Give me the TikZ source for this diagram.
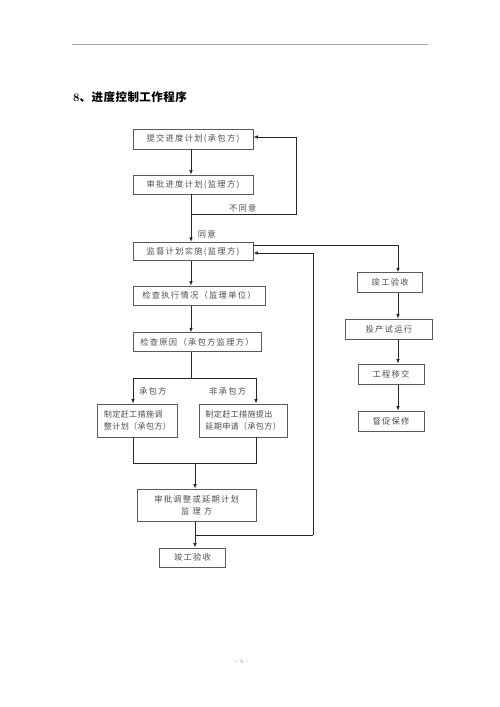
\documentclass[tikz,border=0pt]{standalone}
\usepackage{fontspec}
\usetikzlibrary{arrows.meta,calc}
\newfontfamily\cjk[LetterSpace=15]{Noto Sans CJK SC}
\newfontfamily\cjkn[LetterSpace=4]{Noto Sans CJK SC}
\newfontfamily\cjkt[LetterSpace=4]{Noto Sans CJK SC}
\definecolor{boxline}{gray}{0.35}
\definecolor{txt}{gray}{0.3}
\begin{document}
\begin{tikzpicture}[x=1pt,y=-1pt,
  box/.style={draw=boxline, line width=0.8pt, inner sep=0pt, anchor=center,
    font=\cjk\fontsize{8.3}{11.7}\selectfont, text=txt},
  nbox/.style={box, align=left, font=\cjkn\fontsize{8.1}{11.7}\selectfont},
  lbl/.style={inner sep=0pt, font=\cjk\fontsize{8.3}{10}\selectfont, text=txt},
  conn/.style={line width=0.8pt, draw=black!85},
  arr/.style={conn, -{Latex[length=4.5pt,width=3.6pt]}}]
\useasboundingbox (0,0) rectangle (500,707);
\draw[line width=1.2pt, gray!70] (72,44.5) coordinate (tl) -- (428,44.5) coordinate (tr);
\node[anchor=west, inner sep=0pt, text=black] (title) at (73,97)
  {\fontsize{11.5}{12}\selectfont\bfseries 8\cjkt 、进度控制工作程序};
% main column boxes
\node[box, minimum width=120, minimum height=20] (b1) at (193,139) {提交进度计划(承包方)};
\node[box, minimum width=120, minimum height=19] (b2) at (193,184.5) {审批进度计划(监理方)};
\node[box, minimum width=120, minimum height=18.5] (b3) at (193,251.5) {监督计划实施(监理方)};
\node[box, minimum width=132, minimum height=19.5] (b4) at (199,295.8) {检查执行情况（监理单位）};
\node[box, minimum width=128, minimum height=19] (b5) at (197,342.2) {检查原因（承包方监理方）};
\node[nbox, minimum width=80.4, minimum height=33] (b6) at (137.5,420.5) {制定赶工措施调\\整计划（承包方）};
\node[nbox, minimum width=88.3, minimum height=33] (b7) at (243.2,420.5) {制定赶工措施提出\\延期申请（承包方）};
\node[box, minimum width=118.7, minimum height=32.7, align=center, font=\cjk\fontsize{8.3}{12.7}\selectfont] (b8) at (196.7,505.3) {审批调整或延期计划\\监\ 理\ 方};
\node[box, minimum width=66.4, minimum height=19.7] (b9) at (192.5,557.8) {竣工验收};
% right column
\node[box, minimum width=65, minimum height=20] (r1) at (390.2,282.7) {竣工验收};
\node[box, minimum width=87.7, minimum height=20] (r2) at (388.9,329) {投产试运行};
\node[box, minimum width=66, minimum height=20] (r3) at (391,374) {工程移交};
\node[box, minimum width=66, minimum height=20] (r4) at (391,421) {督促保修};
% guide coordinates
\coordinate (m) at (191,0);
\coordinate (n) at (195,0);
\coordinate (rc) at (398,0);
\coordinate (fb) at (296,214);
\coordinate (lp) at (313,535);
\coordinate (sp) at (191,378);
\coordinate (brL) at (133,378);
\coordinate (brR) at (256,378);
\coordinate (jL) at (133,463);
\coordinate (jR) at (256,463);
\coordinate (jn) at (195,463);
% labels
\node[lbl] (lno) at (242.7,208) {不同意};
\node[lbl] (lyes) at (206.7,234) {同意};
\node[lbl] (lcb) at (152.7,391.7) {承包方};
\node[lbl] (lfcb) at (227.7,391.7) {非承包方};
% connectors main column
\draw[arr] (b1.south-|m) -- (b2.north-|m);
\draw[arr] (b2.south-|m) -- (b3.north-|m);
\draw[arr] (fb-|m) -- (fb) -- (fb|-0,137) -- (b1.east|-0,137);
\draw[arr] (b3.south-|m) -- (b4.north-|m);
\draw[arr] (b4.south-|m) -- (b5.north-|m);
\draw[conn] (b5.south-|m) -- (sp);
\draw[conn] (brL) -- (brR);
\draw[arr] (brL) -- (b6.north-|brL);
\draw[arr] (brR) -- (b7.north-|brR);
\draw[conn] (b6.south-|jL) -- (jL) -- (jR) -- (b7.south-|jR);
\draw[arr] (jn) -- (b8.north-|n);
\draw[arr] (b8.south-|n) -- (b9.north-|n);
\draw[conn] (lp-|n) -- (lp);
\draw[arr] (lp) -- (lp|-0,253) -- (b3.east|-0,253);
\draw[arr] (b3.east|-0,245.7) -- (rc|-0,245.7) -- (r1.north-|rc);
% right column connectors
\draw[arr] (r1.south-|rc) -- (r2.north-|rc);
\draw[arr] (r2.south-|rc) -- (r3.north-|rc);
\draw[arr] (r3.south-|rc) -- (r4.north-|rc);
% page number
\node[inner sep=0pt, font=\fontsize{5.5}{6}\selectfont, text=gray] (pg) at (241.7,661.7) {- 9 -};
\end{tikzpicture}
\end{document}
